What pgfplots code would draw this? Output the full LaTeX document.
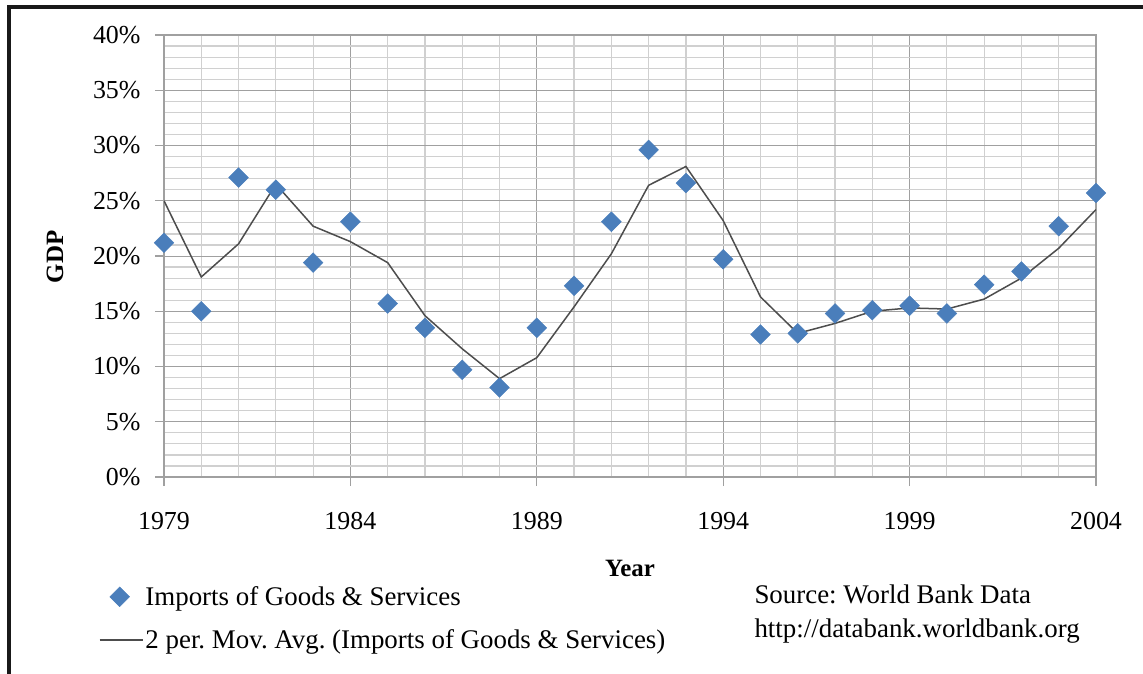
\documentclass[border=0pt]{standalone}
\usepackage{fontspec}
\setmainfont{Liberation Serif}
\usepackage{pgfplots}
\pgfplotsset{compat=1.18}
\frenchspacing

\definecolor{impblue}{HTML}{4A7EBB}
\definecolor{majgrid}{HTML}{A0A0A0}
\definecolor{mingrid}{HTML}{D0D0D0}
\definecolor{avgline}{HTML}{4D4D4D}

\pgfplotsset{
    diamondlegend/.style={legend image code/.code={\draw[mark repeat=2,mark phase=2,##1]
        plot coordinates {(0bp,0bp) (20bp,0bp) (40bp,0bp)};}},
    linelegend/.style={legend image code/.code={\draw[##1] (0bp,0bp) -- (43bp,0bp);}},
}

\begin{document}
\begin{tikzpicture}
% page = 1143 x 674 px, axis box from (164,35) to (1096,477) px
\path[use as bounding box] (-164bp,-197bp) rectangle (979bp,477bp);
\draw[line width=4bp, black!90] (-155bp,-197bp) -- (-155bp,470bp) -- (979bp,470bp);

\begin{axis}[
    scale only axis,
    width=932bp, height=442bp,
    xmin=1979, xmax=2004,
    ymin=0, ymax=40,
    xtick={1979,1984,1989,1994,1999,2004},
    xticklabels={1979,1984,1989,1994,1999,2004},
    minor x tick num=4,
    ytick={0,5,10,15,20,25,30,35,40},
    yticklabels={0\%,5\%,10\%,15\%,20\%,25\%,30\%,35\%,40\%},
    minor y tick num=4,
    grid=both,
    major grid style={majgrid, line width=1bp},
    minor grid style={mingrid, line width=1.2bp},
    axis line style={majgrid, line width=1.2bp},
    tick style={majgrid, line width=1.2bp},
    major tick length=9bp,
    minor tick length=0pt,
    tick pos=left,
    tick align=outside,
    ticklabel style={font=\fontsize{26}{31}\selectfont},
    xticklabel style={yshift=-23bp},
    yticklabel style={xshift=-11bp},
    xlabel={\textbf{Year}},
    ylabel={\textbf{GDP}},
    label style={font=\fontsize{25}{30}\selectfont},
    xlabel style={at={(axis description cs:0.5,-0.206)}, anchor=center},
    ylabel style={at={(axis description cs:-0.117,0.498)}, anchor=center, rotate=0},
    legend style={at={(axis description cs:-0.070,-0.243)}, anchor=north west,
        draw=none, fill=none, inner sep=0pt,
        font=\fontsize{27}{32}\selectfont, row sep=19bp,
        cells={anchor=west}},
]

\addplot[only marks, mark=square*, mark size=7bp,
    mark options={rotate=45, fill=impblue, draw=impblue}, diamondlegend]
coordinates {
    (1979,21.2) (1980,15.0) (1981,27.1) (1982,26.0) (1983,19.4)
    (1984,23.1) (1985,15.7) (1986,13.5) (1987,9.7) (1988,8.1)
    (1989,13.5) (1990,17.3) (1991,23.1) (1992,29.6) (1993,26.6)
    (1994,19.7) (1995,12.9) (1996,13.0) (1997,14.8) (1998,15.1)
    (1999,15.5) (2000,14.8) (2001,17.4) (2002,18.6) (2003,22.7)
    (2004,25.7)
};
\addlegendentry{Imports of Goods \& Services}

\addplot[avgline, line width=1.5bp, no marks, linelegend]
coordinates {
    (1979,25.0) (1980,18.1) (1981,21.1) (1982,26.5) (1983,22.7)
    (1984,21.3) (1985,19.4) (1986,14.6) (1987,11.6) (1988,8.9)
    (1989,10.8) (1990,15.4) (1991,20.2) (1992,26.4) (1993,28.1)
    (1994,23.2) (1995,16.3) (1996,13.0) (1997,13.9) (1998,15.0)
    (1999,15.3) (2000,15.2) (2001,16.1) (2002,18.0) (2003,20.7)
    (2004,24.2)
};
\addlegendentry{2 per. Mov. Avg. (Imports of Goods \& Services)}
\end{axis}

\node[anchor=base west, font=\fontsize{27}{32}\selectfont] at (587bp,-126bp) {Source: World Bank Data};
\node[anchor=base west, font=\fontsize{27}{32}\selectfont] at (587bp,-160bp) {http://databank.worldbank.org};
\end{tikzpicture}
\end{document}
